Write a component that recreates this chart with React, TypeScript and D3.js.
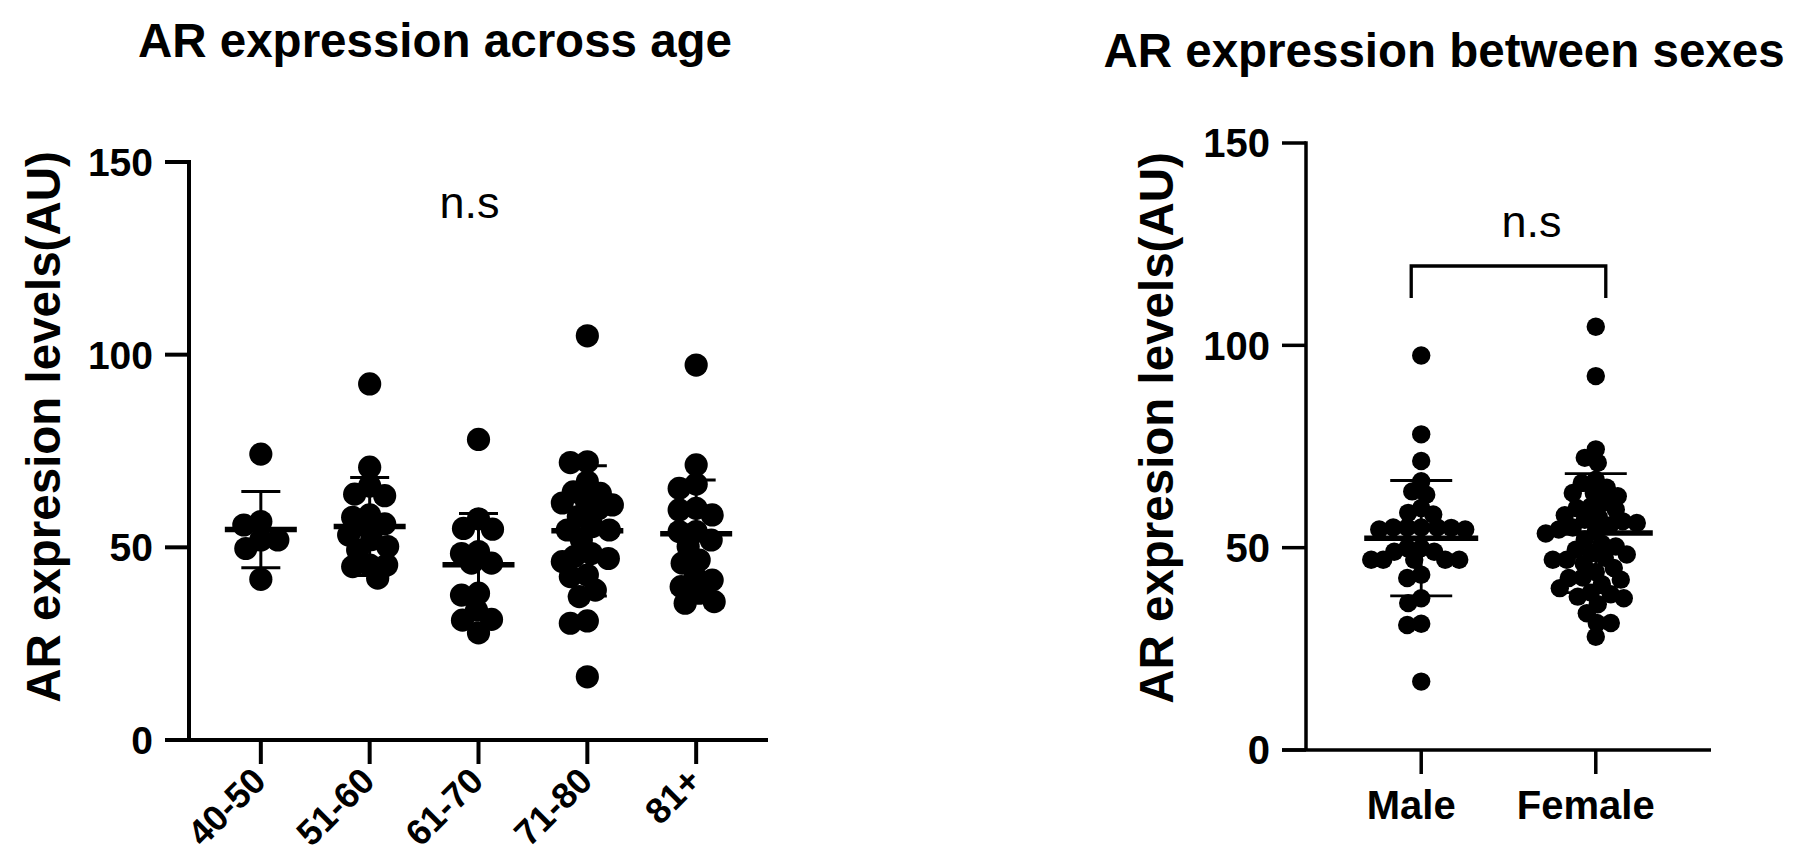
import React from "react";
import * as d3 from "d3";

const FONT = "'Liberation Sans', Arial, Helvetica, sans-serif";

// ---------- data ----------
const ages = ["40-50", "51-60", "61-70", "71-80", "81+"];
const age40_50 = [74.2, 56.7, 55.8, 51.9, 51.9, 49.7, 41.7];
const age51_60 = [92.4, 70.8, 65.9, 63.8, 63.4, 58.4, 57.8, 56.1, 55.8, 53.2, 52.0, 50.2, 49.3, 45.4, 45.4, 45.0, 42.0];
const age61_70 = [78.0, 57.4, 54.9, 54.7, 48.9, 48.4, 45.9, 45.9, 38.1, 37.6, 33.7, 31.3, 31.1, 27.8];
const age71_80 = [104.9, 72.2, 72.0, 67.0, 64.4, 64.0, 62.0, 61.5, 61.0, 60.0, 58.0, 55.4, 54.5, 54.5, 52.0, 48.4, 47.6, 47.1, 46.3, 42.8, 42.4, 38.9, 37.2, 30.9, 30.3, 16.4];
const age81plus = [97.3, 71.4, 66.4, 65.3, 60.1, 59.7, 58.4, 54.1, 54.1, 51.9, 50.2, 46.7, 45.9, 42.4, 41.5, 39.8, 38.1, 35.9, 35.5];
const ageMeans = [54.6, 55.4, 45.5, 54.3, 53.5];
const ageSDs = [9.9, 12.7, 13.3, 16.9, 14.0];

const sexes = ["Male", "Female"];
const male = [97.5, 78.0, 71.4, 66.4, 63.9, 63.1, 59.8, 58.6, 58.2, 55.0, 55.0, 55.0, 55.0, 54.9, 54.5, 54.5, 49.9, 49.9, 49.0, 49.0, 47.0, 47.0, 47.0, 47.0, 47.0, 43.3, 42.5, 37.5, 36.3, 31.2, 30.9, 16.9];
const female = [104.6, 92.4, 74.3, 72.2, 71.0, 66.8, 66.0, 64.8, 63.5, 63.5, 62.7, 61.1, 60.2, 59.8, 59.4, 58.0, 57.5, 56.9, 56.5, 56.1, 55.5, 55.0, 54.5, 54.0, 53.5, 52.0, 51.0, 50.3, 49.5, 48.7, 48.3, 47.5, 47.0, 47.0, 46.0, 45.0, 44.0, 42.6, 42.5, 42.1, 41.0, 40.0, 38.9, 38.5, 37.9, 37.5, 36.0, 33.8, 31.4, 31.4, 28.0];
const sexMeans = [52.35, 53.6];
const sexSDs = [14.25, 14.7];

const yTicks = [0, 50, 100, 150];

// ---------- simple scatter (beeswarm) layout ----------
function swarm(ys: number[], minD: number, maxHalf: number): number[] {
  const order = d3.range(ys.length).sort((a, b) => ys[a] - ys[b]);
  const placed: { x: number; y: number }[] = [];
  const out: number[] = new Array(ys.length).fill(0);
  for (const i of order) {
    const y = ys[i];
    let best = 0;
    let bestD = -1;
    let chosen: number | null = null;
    for (let s = 0; s <= maxHalf && chosen === null; s++) {
      for (const sign of s === 0 ? [1] : [-1, 1]) {
        const c = s * sign;
        let d = Infinity;
        for (const p of placed) {
          const dd = Math.hypot(c - p.x, y - p.y);
          if (dd < d) d = dd;
        }
        if (d >= minD) { chosen = c; break; }
        if (d > bestD) { bestD = d; best = c; }
      }
    }
    const cx = chosen === null ? best : chosen;
    placed.push({ x: cx, y });
    out[i] = cx;
  }
  return out;
}

type PanelProps = {
  cats: string[];
  groups: number[][];
  means: number[];
  sds: number[];
  x: d3.ScalePoint<string>;
  y: d3.ScaleLinear<number, number>;
  r: number;
  minD: number;
  maxHalf: number;
  meanHalf: number;
  capHalf: number;
  axisW: number;
  meanW: number;
  errW: number;
  tickLen: number;
  tickFont: number;
};

function Panel(p: PanelProps) {
  const [x0, x1] = p.x.range();
  const y0 = p.y(0);
  const yTop = p.y(150);
  return (
    <g>
      {p.groups.map((vals, gi) => {
        const cx = p.x(p.cats[gi]) as number;
        const ys = vals.map((v) => p.y(v));
        const offs = swarm(ys, p.minD, p.maxHalf);
        return (
          <g key={"d" + gi}>
            {vals.map((v, i) => (
              <circle key={i} cx={cx + offs[i]} cy={ys[i]} r={p.r} fill="#000" />
            ))}
          </g>
        );
      })}
      {p.cats.map((c, gi) => {
        const cx = p.x(c) as number;
        const m = p.means[gi];
        const s = p.sds[gi];
        return (
          <g key={"e" + gi} stroke="#000">
            <line x1={cx} x2={cx} y1={p.y(m - s)} y2={p.y(m + s)} strokeWidth={p.errW} />
            <line x1={cx - p.capHalf} x2={cx + p.capHalf} y1={p.y(m + s)} y2={p.y(m + s)} strokeWidth={p.errW} />
            <line x1={cx - p.capHalf} x2={cx + p.capHalf} y1={p.y(m - s)} y2={p.y(m - s)} strokeWidth={p.errW} />
            <line x1={cx - p.meanHalf} x2={cx + p.meanHalf} y1={p.y(m)} y2={p.y(m)} strokeWidth={p.meanW} />
          </g>
        );
      })}
      <line x1={x0} x2={x0} y1={yTop - p.axisW / 2} y2={y0} stroke="#000" strokeWidth={p.axisW} />
      <line x1={x0 - p.tickLen} x2={x1} y1={y0} y2={y0} stroke="#000" strokeWidth={p.axisW} />
      {yTicks.map((t) => (
        <g key={"t" + t}>
          <line x1={x0 - p.tickLen} x2={x0} y1={p.y(t)} y2={p.y(t)} stroke="#000" strokeWidth={p.axisW} />
          <text x={x0 - p.tickLen - 12} y={p.y(t)} dy="0.36em" textAnchor="end" fontFamily={FONT} fontWeight="bold" fontSize={p.tickFont}>
            {t}
          </text>
        </g>
      ))}
      {p.cats.map((c) => (
        <line key={"xt" + c} x1={p.x(c) as number} x2={p.x(c) as number} y1={y0} y2={y0 + p.tickLen} stroke="#000" strokeWidth={p.axisW} />
      ))}
    </g>
  );
}

export default function App() {
  const yL = d3.scaleLinear().domain([0, 150]).range([740, 162]);
  const xL = d3.scalePoint<string>().domain(ages).range([189, 768]).padding(0.66);
  const yR = d3.scaleLinear().domain([0, 150]).range([750, 143]);
  const xR = d3.scalePoint<string>().domain(sexes).range([1306, 1711]).padding(0.66);
  const yLabel = "AR expresion levels(AU)";
  const bx1 = (xR("Male") as number) - 10;
  const bx2 = (xR("Female") as number) + 10;
  return (
    <svg width={1798} height={859} style={{ position: "absolute", left: 0, top: 0, background: "#fff" }}>
      <rect width={1798} height={859} fill="#fff" />
      <text x={435} y={57} textAnchor="middle" fontFamily={FONT} fontWeight="bold" fontSize={47.5}>
        AR expression across age
      </text>
      <text transform="translate(60,427) rotate(-90)" textAnchor="middle" fontFamily={FONT} fontWeight="bold" fontSize={47.5}>
        {yLabel}
      </text>
      <Panel cats={ages} groups={[age40_50, age51_60, age61_70, age71_80, age81plus]} means={ageMeans} sds={ageSDs}
        x={xL} y={yL} r={11.6} minD={17} maxHalf={25} meanHalf={36} capHalf={19.5} axisW={4} meanW={5.5} errW={3}
        tickLen={24} tickFont={39} />
      {ages.map((a) => (
        <text key={a} transform={`translate(${(xL(a) as number) + 7},783) rotate(-45)`} textAnchor="end"
          fontFamily={FONT} fontWeight="bold" fontSize={36}>
          {a}
        </text>
      ))}
      <text x={(xL("61-70") as number) - 9} y={218} textAnchor="middle" fontFamily={FONT} fontSize={45}>
        n.s
      </text>

      <text x={1444} y={67} textAnchor="middle" fontFamily={FONT} fontWeight="bold" fontSize={47.5}>
        AR expression between sexes
      </text>
      <text transform="translate(1173,428) rotate(-90)" textAnchor="middle" fontFamily={FONT} fontWeight="bold" fontSize={47.5}>
        {yLabel}
      </text>
      <Panel cats={sexes} groups={[male, female]} means={sexMeans} sds={sexSDs}
        x={xR} y={yR} r={9.2} minD={13.5} maxHalf={50} meanHalf={57} capHalf={31} axisW={3.5} meanW={5.5} errW={2.8}
        tickLen={24} tickFont={40} />
      {sexes.map((s) => (
        <text key={s} x={(xR(s) as number) - 10} y={819} textAnchor="middle" fontFamily={FONT} fontWeight="bold" fontSize={40}>
          {s}
        </text>
      ))}
      <path d={`M${bx1},298 V266 H${bx2} V298`} fill="none" stroke="#000" strokeWidth={3.3} />
      <text x={(bx1 + bx2) / 2 + 23} y={237} textAnchor="middle" fontFamily={FONT} fontSize={45}>
        n.s
      </text>
    </svg>
  );
}
